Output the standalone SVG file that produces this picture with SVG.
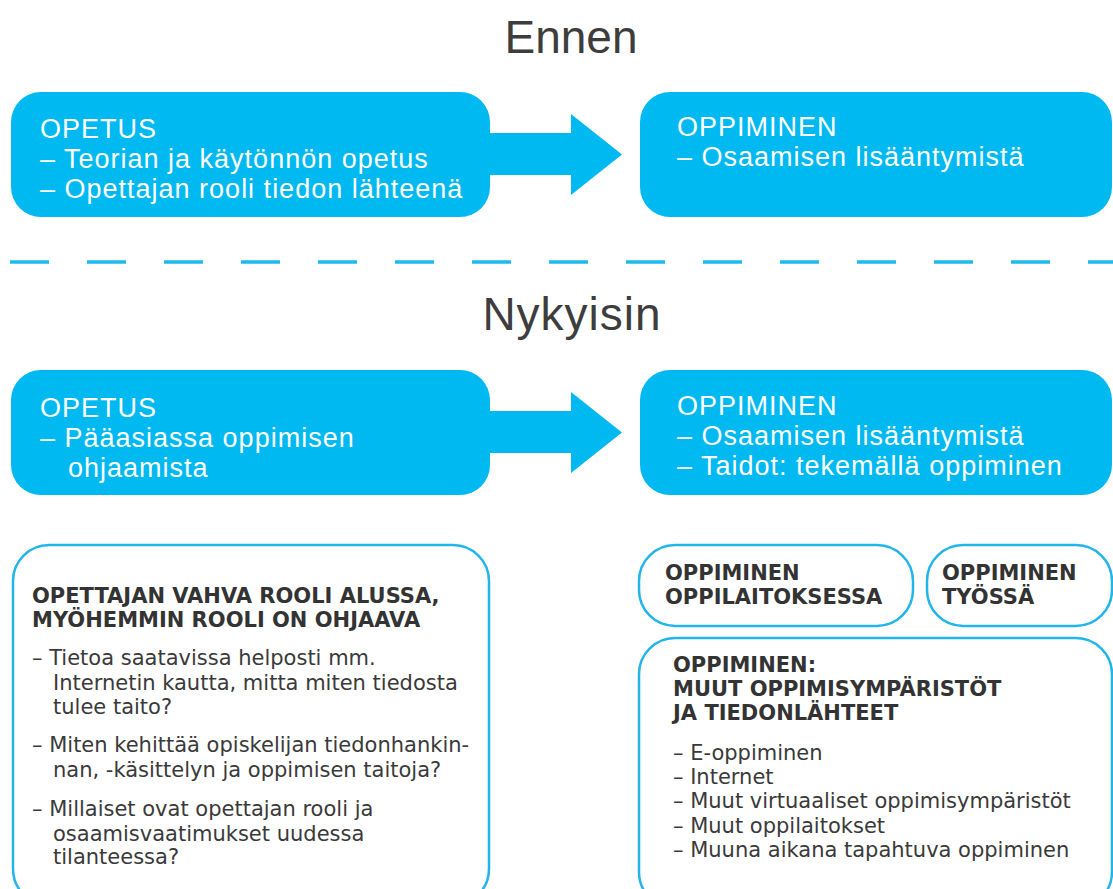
<svg xmlns="http://www.w3.org/2000/svg" width="1113" height="889" viewBox="0 0 1113 889">
<style>
.title{font-family:"Liberation Sans",Arial,sans-serif;font-size:46px;fill:#3d3d3d;text-anchor:middle}
.fill{fill:#00B9F0}
.wt{font-family:"Liberation Sans",Arial,sans-serif;font-size:27px;fill:#ffffff;letter-spacing:1px}
.ol{fill:#ffffff;stroke:#22B5EA;stroke-width:2.5}
.hd{font-family:"DejaVu Sans","Liberation Sans",sans-serif;font-size:21px;font-weight:bold;fill:#333333}
.bt{font-family:"DejaVu Sans","Liberation Sans",sans-serif;font-size:21px;fill:#3a3a3a}
</style>
<rect width="1113" height="889" fill="#ffffff"/>
<text class="title" x="571" y="53">Ennen</text>
<text class="title" x="572" y="330" letter-spacing="1">Nykyisin</text>
<line x1="10" y1="262" x2="1113" y2="262" stroke="#1EBBEE" stroke-width="3.5" stroke-dasharray="39 38"/>

<g id="connectors">
<polygon class="fill" points="486,133 571,133 571,114 622,154.5 571,195 571,175 486,175"/>
<polygon class="fill" points="486,411 571,411 571,392 622,432.5 571,473 571,453 486,453"/>
</g>

<g id="ennen-opetus">
<rect class="fill" x="11" y="92" width="479" height="125" rx="30"/>
<text class="wt" x="40" y="138">OPETUS</text>
<text class="wt" x="40" y="168">– Teorian ja käytönnön opetus</text>
<text class="wt" x="40" y="198">– Opettajan rooli tiedon lähteenä</text>
</g>
<g id="ennen-oppiminen">
<rect class="fill" x="640" y="92" width="472" height="125" rx="30"/>
<text class="wt" x="677" y="136">OPPIMINEN</text>
<text class="wt" x="677" y="166">– Osaamisen lisääntymistä</text>
</g>

<g id="nyky-opetus">
<rect class="fill" x="11" y="370" width="479" height="125" rx="30"/>
<text class="wt" x="40" y="417">OPETUS</text>
<text class="wt" x="40" y="447">– Pääasiassa oppimisen</text>
<text class="wt" x="68" y="477">ohjaamista</text>
</g>
<g id="nyky-oppiminen">
<rect class="fill" x="640" y="370" width="472" height="125" rx="30"/>
<text class="wt" x="677" y="415">OPPIMINEN</text>
<text class="wt" x="677" y="445">– Osaamisen lisääntymistä</text>
<text class="wt" x="677" y="475">– Taidot: tekemällä oppiminen</text>
</g>

<g id="opettajan-rooli">
<rect class="ol" x="13" y="545" width="476" height="360" rx="36"/>
<text class="hd" x="32" y="603">OPETTAJAN VAHVA ROOLI ALUSSA,</text>
<text class="hd" x="32" y="627">MYÖHEMMIN ROOLI ON OHJAAVA</text>
<text class="bt" x="32" y="665">– Tietoa saatavissa helposti mm.</text>
<text class="bt" x="53" y="690">Internetin kautta, mitta miten tiedosta</text>
<text class="bt" x="53" y="714">tulee taito?</text>
<text class="bt" x="32" y="752">– Miten kehittää opiskelijan tiedonhankin-</text>
<text class="bt" x="53" y="777">nan, -käsittelyn ja oppimisen taitoja?</text>
<text class="bt" x="32" y="816">– Millaiset ovat opettajan rooli ja</text>
<text class="bt" x="53" y="841">osaamisvaatimukset uudessa</text>
<text class="bt" x="53" y="864">tilanteessa?</text>
</g>

<g id="oppilaitoksessa">
<rect class="ol" x="639" y="545" width="274" height="81" rx="36"/>
<text class="hd" x="665" y="580">OPPIMINEN</text>
<text class="hd" x="665" y="604">OPPILAITOKSESSA</text>
</g>
<g id="tyossa">
<rect class="ol" x="927" y="545" width="185" height="81" rx="36"/>
<text class="hd" x="942" y="580">OPPIMINEN</text>
<text class="hd" x="942" y="604">TYÖSSÄ</text>
</g>
<g id="muut">
<rect class="ol" x="639" y="638" width="473" height="270" rx="36"/>
<text class="hd" x="673" y="672">OPPIMINEN:</text>
<text class="hd" x="673" y="696">MUUT OPPIMISYMPÄRISTÖT</text>
<text class="hd" x="673" y="720">JA TIEDONLÄHTEET</text>
<text class="bt" x="673" y="760">– E-oppiminen</text>
<text class="bt" x="673" y="784">– Internet</text>
<text class="bt" x="673" y="808">– Muut virtuaaliset oppimisympäristöt</text>
<text class="bt" x="673" y="833">– Muut oppilaitokset</text>
<text class="bt" x="673" y="857">– Muuna aikana tapahtuva oppiminen</text>
</g>
</svg>
